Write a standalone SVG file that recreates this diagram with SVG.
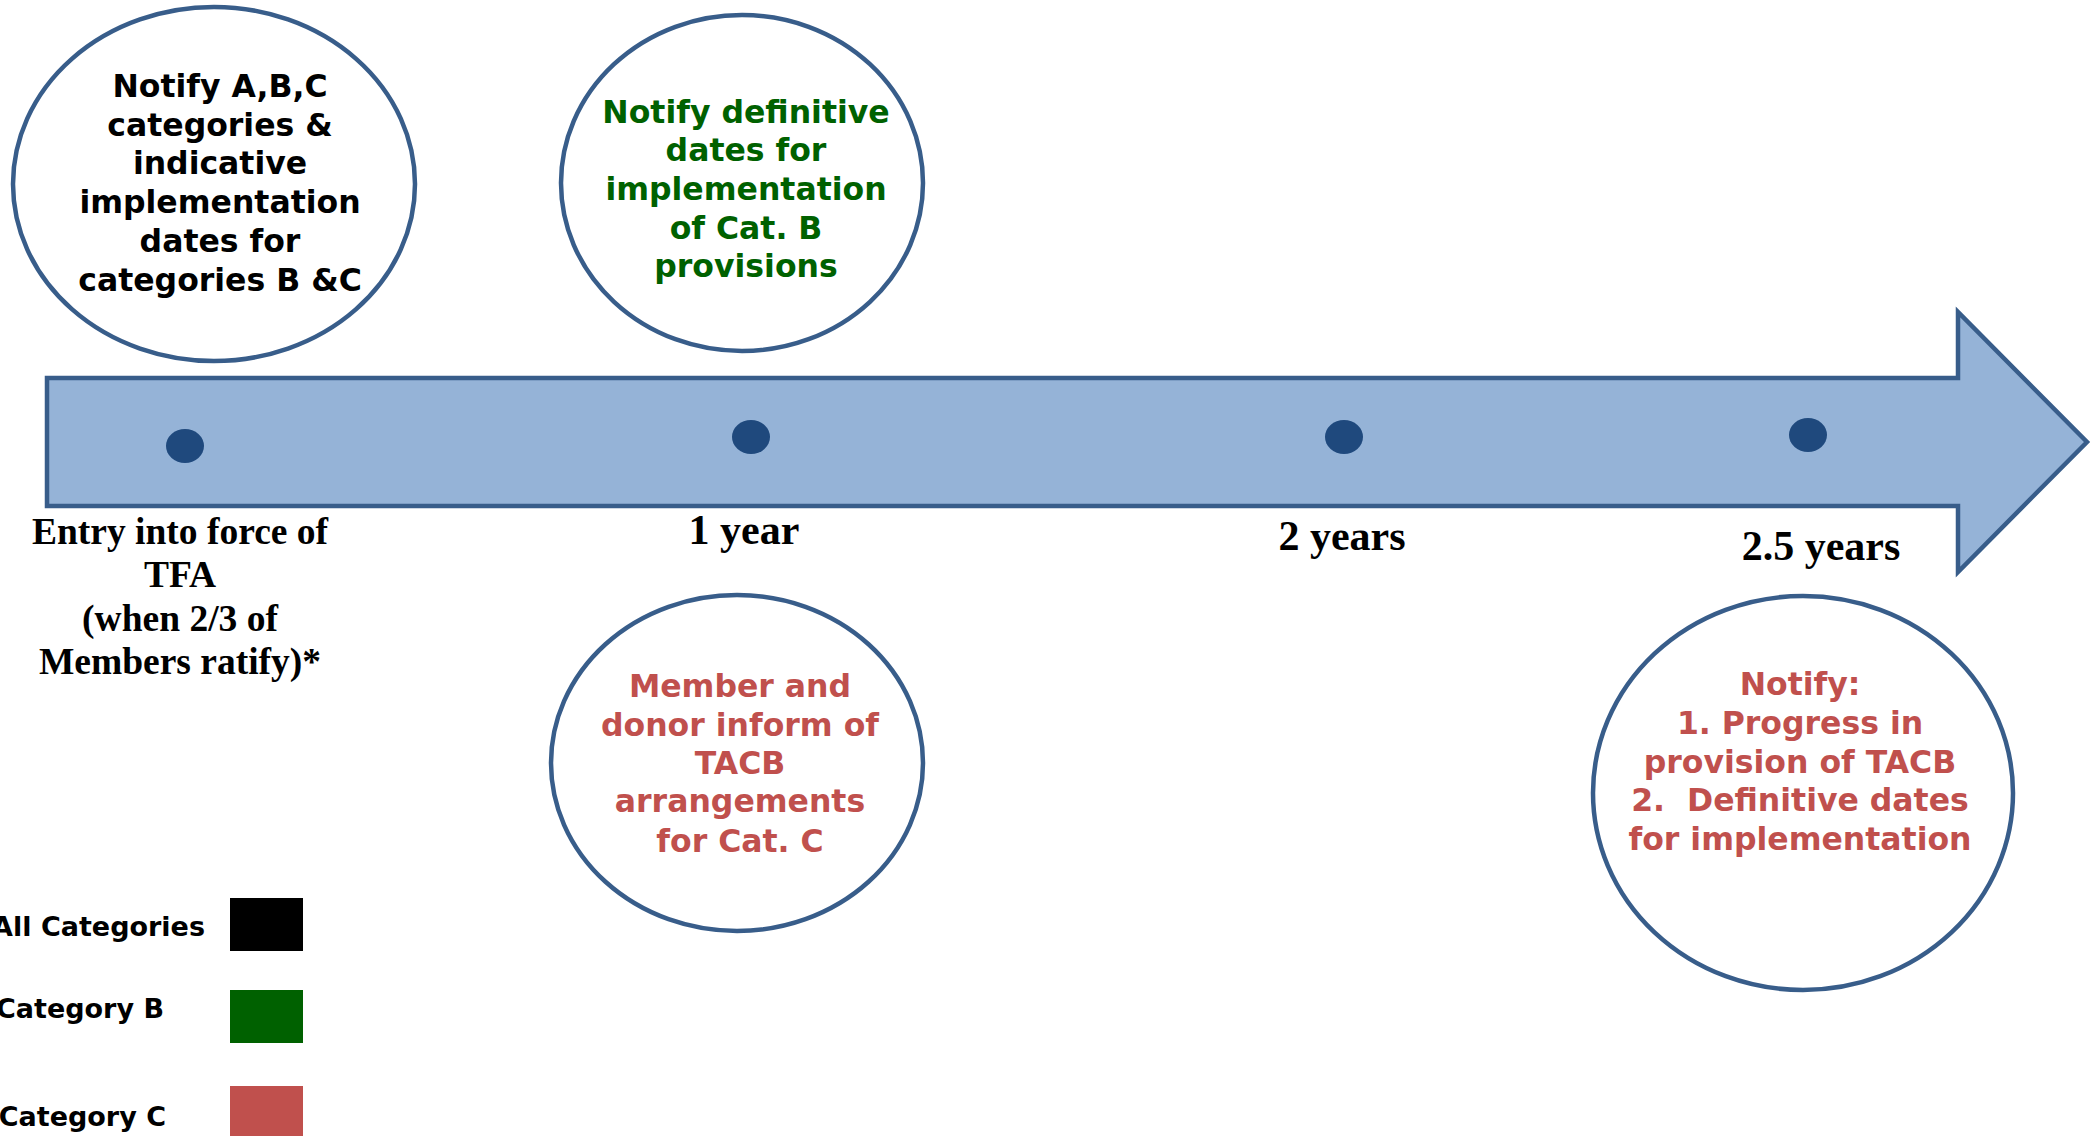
<svg xmlns="http://www.w3.org/2000/svg" width="2100" height="1136" viewBox="0 0 2100 1136">
<style>
.bubble{fill:#ffffff;stroke:#385D8A;stroke-width:4.5}
.ctext{font-family:"DejaVu Sans",Verdana,sans-serif;font-weight:bold;font-size:31.5px;text-anchor:middle}
.black{fill:#000000}
.green{fill:#006100}
.red{fill:#C0504D}
.tl{font-family:"Liberation Serif","Times New Roman",serif;font-weight:bold;fill:#000;text-anchor:middle}
.dot{fill:#1F497D}
.leg{font-family:"DejaVu Sans",Verdana,sans-serif;font-weight:bold;font-size:27px;fill:#000;text-anchor:end}
</style>
<rect width="2100" height="1136" fill="#ffffff"/>
<g id="timeline">
<polygon points="47,378 1958,378 1958,312 2087,442 1958,572 1958,506 47,506" fill="#95B3D7" stroke="#385D8A" stroke-width="4.5"/>
<ellipse class="dot" cx="185" cy="446" rx="19" ry="17"/>
<ellipse class="dot" cx="751" cy="437" rx="19" ry="17"/>
<ellipse class="dot" cx="1344" cy="437" rx="19" ry="17"/>
<ellipse class="dot" cx="1808" cy="435" rx="19" ry="17"/>
</g>
<g id="label-entry">
<text class="tl" font-size="37.5" x="180" y="544">Entry into force of</text>
<text class="tl" font-size="37.5" x="180" y="587">TFA</text>
<text class="tl" font-size="37.5" x="180" y="631">(when 2/3 of</text>
<text class="tl" font-size="37.5" x="180" y="674">Members ratify)*</text>
</g>
<g id="label-1year"><text class="tl" font-size="42" x="744" y="544">1 year</text></g>
<g id="label-2years"><text class="tl" font-size="42" x="1342" y="550">2 years</text></g>
<g id="label-25years"><text class="tl" font-size="42" x="1821" y="560">2.5 years</text></g>
<g id="node-all">
<ellipse class="bubble" cx="214" cy="184" rx="201" ry="177"/>
<text class="ctext black" x="220" y="97">Notify A,B,C</text>
<text class="ctext black" x="220" y="136">categories &amp;</text>
<text class="ctext black" x="220" y="174">indicative</text>
<text class="ctext black" x="220" y="213">implementation</text>
<text class="ctext black" x="220" y="252">dates for</text>
<text class="ctext black" x="220" y="291">categories B &amp;C</text>
</g>
<g id="node-catB">
<ellipse class="bubble" cx="742" cy="183" rx="181" ry="168"/>
<text class="ctext green" x="746" y="123">Notify definitive</text>
<text class="ctext green" x="746" y="161">dates for</text>
<text class="ctext green" x="746" y="200">implementation</text>
<text class="ctext green" x="746" y="239">of Cat. B</text>
<text class="ctext green" x="746" y="277">provisions</text>
</g>
<g id="node-catC-1year">
<ellipse class="bubble" cx="737" cy="763" rx="186" ry="168"/>
<text class="ctext red" x="740" y="697">Member and</text>
<text class="ctext red" x="740" y="736">donor inform of</text>
<text class="ctext red" x="740" y="774">TACB</text>
<text class="ctext red" x="740" y="812">arrangements</text>
<text class="ctext red" x="740" y="852">for Cat. C</text>
</g>
<g id="node-catC-25years">
<ellipse class="bubble" cx="1803" cy="793" rx="210" ry="197"/>
<text class="ctext red" x="1800" y="695">Notify:</text>
<text class="ctext red" x="1800" y="734">1. Progress in</text>
<text class="ctext red" x="1800" y="773">provision of TACB</text>
<text class="ctext red" x="1800" y="811" xml:space="preserve">2.  Definitive dates</text>
<text class="ctext red" x="1800" y="850">for implementation</text>
</g>
<g id="legend">
<text class="leg" x="205" y="936">All Categories</text>
<rect x="230" y="898" width="73" height="53" fill="#000000"/>
<text class="leg" x="164" y="1018">Category B</text>
<rect x="230" y="990" width="73" height="53" fill="#006100"/>
<text class="leg" x="166" y="1126">Category C</text>
<rect x="230" y="1086" width="73" height="52" fill="#C0504D"/>
</g>
</svg>
